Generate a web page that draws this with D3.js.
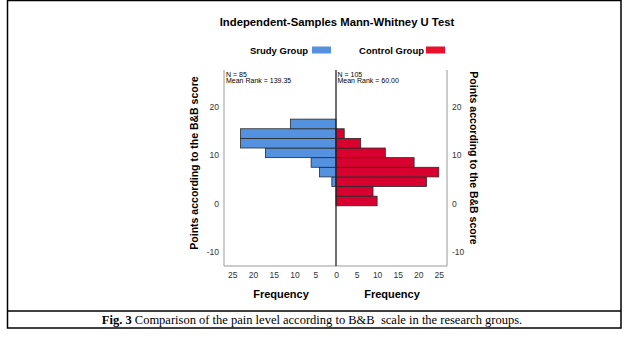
<!DOCTYPE html>
<html><head><meta charset="utf-8">
<script src="https://cdn.jsdelivr.net/npm/d3@7"></script>
<style>html,body{margin:0;padding:0;background:#fff;}svg{display:block;}</style>
</head><body>
<script>
const title = "Independent-Samples Mann-Whitney U Test";
const groups = ["Srudy Group", "Control Group"];
const groupN = [85, 105];
const meanRanks = ["139.35", "60.00"];
const binEdges = [-0.5, 1.5, 3.5, 5.5, 7.5, 9.5, 11.5, 13.5, 15.5, 17.5];
const studyCounts = [0, 0, 1, 4, 6, 17, 23, 23, 11];
const controlCounts = [10, 9, 22, 25, 19, 12, 6, 2, 0];
const yTicks = [-10, 0, 10, 20];
const xTicks = [0, 5, 10, 15, 20, 25];
const yTitle = "Points according to the B&B score";
const xTitle = "Frequency";
const caption = ["Fig. 3", " Comparison of the pain level according to B&B  scale in the research groups."];

(function () {
const W = 624, H = 359;
const blue = "#5492e0", red = "#d8002e", legendRed = "#e8102a";
const sans = "'Liberation Sans', Arial, sans-serif";

const svg = d3.select("body").append("svg").attr("width", W).attr("height", H);

// frame
svg.append("rect").attr("x", 7.5).attr("y", 0.5).attr("width", 613.5).attr("height", 327.5)
  .attr("fill", "none").attr("stroke", "#000").attr("stroke-width", 1.5);
svg.append("line").attr("x1", 7.5).attr("x2", 621).attr("y1", 311).attr("y2", 311)
  .attr("stroke", "#000").attr("stroke-width", 1.5);

const cap = svg.append("text").attr("x", 312).attr("y", 324).attr("text-anchor", "middle")
  .attr("font-family", "'Liberation Serif', 'Times New Roman', serif").attr("font-size", 12.5)
  .style("white-space", "pre");
cap.append("tspan").attr("font-weight", "bold").text(caption[0]);
cap.append("tspan").text(caption[1]);

// title
svg.append("text").attr("x", 337).attr("y", 25.5).attr("text-anchor", "middle")
  .attr("font-family", sans).attr("font-weight", "bold").attr("font-size", 11.3).text(title);

// legend
const legY = 50;
svg.append("text").attr("x", 308).attr("y", legY + 3.5).attr("text-anchor", "end")
  .attr("font-family", sans).attr("font-weight", "bold").attr("font-size", 9.5).text(groups[0]);
svg.append("rect").attr("x", 312).attr("y", legY - 3.5).attr("width", 19).attr("height", 7).attr("fill", blue);
svg.append("text").attr("x", 424).attr("y", legY + 3.5).attr("text-anchor", "end")
  .attr("font-family", sans).attr("font-weight", "bold").attr("font-size", 9.5).text(groups[1]);
svg.append("rect").attr("x", 426).attr("y", legY - 3.5).attr("width", 19).attr("height", 7).attr("fill", legendRed);

// scales
const pTop = 70, pBottom = 266, cx = 336, pLeft = 224, pRight = 447;
const y = d3.scaleLinear().domain([-13, 27.7]).range([pBottom, pTop]);
const xL = d3.scaleLinear().domain([0, 27]).range([cx, pLeft]);
const xR = d3.scaleLinear().domain([0, 27]).range([cx, pRight]);

const bins = binEdges.slice(0, -1).map((lo, i) => ({lo, hi: binEdges[i + 1], s: studyCounts[i], c: controlCounts[i]}));

// bars
svg.append("g").selectAll("rect").data(bins.filter(d => d.s > 0)).join("rect")
  .attr("x", d => xL(d.s)).attr("width", d => xL(0) - xL(d.s))
  .attr("y", d => y(d.hi)).attr("height", d => y(d.lo) - y(d.hi))
  .attr("fill", blue).attr("stroke", "#2a2a2a").attr("stroke-width", 0.8);
svg.append("g").selectAll("rect").data(bins.filter(d => d.c > 0)).join("rect")
  .attr("x", xR(0)).attr("width", d => xR(d.c) - xR(0))
  .attr("y", d => y(d.hi)).attr("height", d => y(d.lo) - y(d.hi))
  .attr("fill", red).attr("stroke", "#2a2a2a").attr("stroke-width", 0.8);

// axes lines
svg.append("line").attr("x1", pLeft).attr("x2", pLeft).attr("y1", pTop).attr("y2", pBottom).attr("stroke", "#999");
svg.append("line").attr("x1", pRight).attr("x2", pRight).attr("y1", pTop).attr("y2", pBottom).attr("stroke", "#999");
svg.append("line").attr("x1", pLeft).attr("x2", pRight).attr("y1", pBottom).attr("y2", pBottom).attr("stroke", "#999");
svg.append("line").attr("x1", cx).attr("x2", cx).attr("y1", pTop).attr("y2", pBottom).attr("stroke", "#222").attr("stroke-width", 1.3);

// tick labels via axes
const fmt = d => String(d);
const yAxL = svg.append("g").attr("transform", `translate(${pLeft},0)`)
  .call(d3.axisLeft(y).tickValues(yTicks).tickFormat(fmt).tickSize(0).tickPadding(5));
const yAxR = svg.append("g").attr("transform", `translate(${pRight},0)`)
  .call(d3.axisRight(y).tickValues(yTicks).tickFormat(fmt).tickSize(0).tickPadding(5));
const xAxL = svg.append("g").attr("transform", `translate(0,${pBottom})`)
  .call(d3.axisBottom(xL).tickValues(xTicks).tickFormat(fmt).tickSize(0).tickPadding(6));
const xAxR = svg.append("g").attr("transform", `translate(0,${pBottom})`)
  .call(d3.axisBottom(xR).tickValues(xTicks.filter(t => t > 0)).tickFormat(fmt).tickSize(0).tickPadding(6));
[yAxL, yAxR, xAxL, xAxR].forEach(g => {
  g.select(".domain").remove();
  g.selectAll("text").attr("font-family", sans).attr("font-size", 8.5).attr("fill", "#333");
});

// axis titles
svg.append("text").attr("transform", `translate(198,163) rotate(-90)`).attr("text-anchor", "middle")
  .attr("font-family", sans).attr("font-weight", "bold").attr("font-size", 10.5).text(yTitle);
svg.append("text").attr("transform", `translate(470,158) rotate(90)`).attr("text-anchor", "middle")
  .attr("font-family", sans).attr("font-weight", "bold").attr("font-size", 10.5).text(yTitle);
svg.append("text").attr("x", 281).attr("y", 298).attr("text-anchor", "middle")
  .attr("font-family", sans).attr("font-weight", "bold").attr("font-size", 11).text(xTitle);
svg.append("text").attr("x", 392).attr("y", 298).attr("text-anchor", "middle")
  .attr("font-family", sans).attr("font-weight", "bold").attr("font-size", 11).text(xTitle);

// annotations
[[pLeft + 2, 0], [cx + 1.5, 1]].forEach(([x0, i]) => {
  svg.append("text").attr("x", x0).attr("y", 77).attr("font-family", sans).attr("font-size", 7).text(`N = ${groupN[i]}`);
  svg.append("text").attr("x", x0).attr("y", 83).attr("font-family", sans).attr("font-size", 7).text(`Mean Rank = ${meanRanks[i]}`);
});
})();
</script>
</body></html>
